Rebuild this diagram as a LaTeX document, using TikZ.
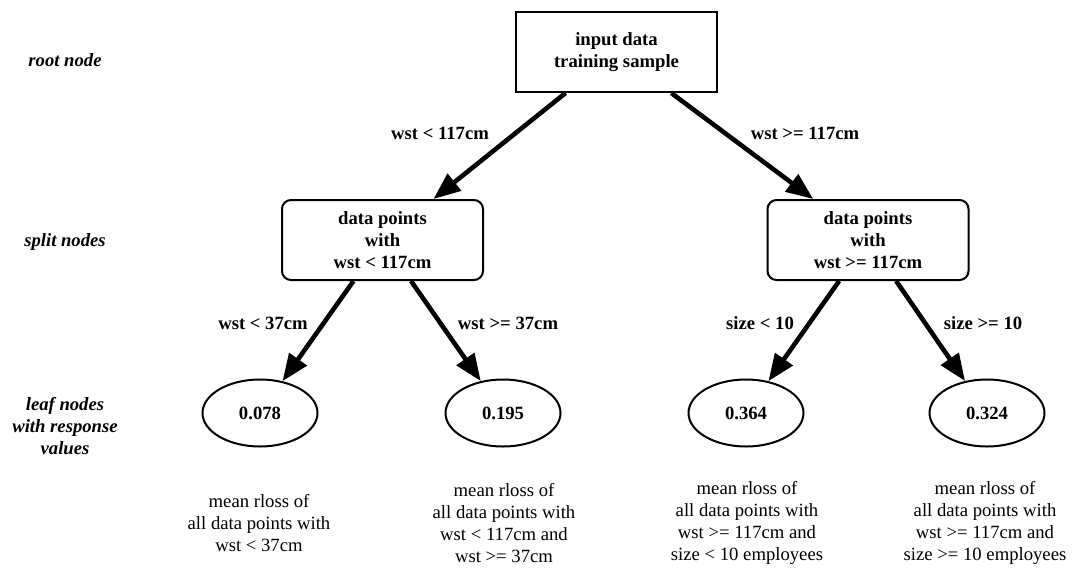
\documentclass[tikz,border=0pt]{standalone}
\usepackage{fontspec}
\setmainfont{Liberation Serif}
\usetikzlibrary{arrows.meta,shapes.geometric}
\newcommand{\treefont}{\fontsize{18.67}{21.8}\selectfont}
\begin{document}
\begin{tikzpicture}[x=1pt,y=-1pt,
  every node/.style={font=\treefont, align=center, inner sep=0pt},
  treebox/.style={draw, line width=2pt, minimum width=201pt, minimum height=80pt,
    font=\treefont\bfseries},
  splitbox/.style={treebox, rounded corners=9pt},
  leaf/.style={draw, ellipse, line width=2pt, minimum width=115pt, minimum height=67pt,
    font=\treefont\bfseries},
  edgelabel/.style={font=\treefont\bfseries},
  levellabel/.style={font=\treefont\bfseries\itshape},
  note/.style={font=\treefont},
  branch/.style={line width=4.6pt, -{Triangle[length=27pt,width=21pt]}}
]
\useasboundingbox (0,0) rectangle (1075,567);

% tree nodes
\node[treebox] (root) at (616.5,52) {input data\\training sample};
\node[splitbox] (lsplit) at (382.5,240) {data points\\with\\wst < 117cm};
\node[splitbox] (rsplit) at (868,240) {data points\\with\\wst >= 117cm};
\node[leaf] (leafA) at (260,413) {0.078};
\node[leaf] (leafB) at (503,413) {0.195};
\node[leaf] (leafC) at (746,413) {0.364};
\node[leaf] (leafD) at (987,413) {0.324};

% branches
\draw[branch] (root) -- (lsplit);
\draw[branch] (root) -- (rsplit);
\draw[branch] (lsplit) -- (leafA);
\draw[branch] (lsplit) -- (leafB);
\draw[branch] (rsplit) -- (leafC);
\draw[branch] (rsplit) -- (leafD);

% split conditions
\node[edgelabel] (cA) at (440,133) {wst < 117cm};
\node[edgelabel] (cB) at (805,133) {wst >= 117cm};
\node[edgelabel] (cC) at (263,323) {wst < 37cm};
\node[edgelabel] (cD) at (508,323) {wst >= 37cm};
\node[edgelabel] (cE) at (760,323) {size < 10};
\node[edgelabel] (cF) at (983,323) {size >= 10};

% level captions
\node[levellabel] (lvRoot) at (65,60) {root node};
\node[levellabel] (lvSplit) at (65,242) {split nodes};
\node[levellabel] (lvLeaf) at (65,426) {leaf nodes\\with response\\values};

% leaf descriptions
\node[note] (nA) at (259,523) {mean rloss of\\all data points with\\wst < 37cm};
\node[note] (nB) at (504,523) {mean rloss of\\all data points with\\wst < 117cm and\\wst >= 37cm};
\node[note] (nC) at (747,523) {mean rloss of\\all data points with\\wst >= 117cm and\\size < 10 employees};
\node[note] (nD) at (985,523) {mean rloss of\\all data points with\\wst >= 117cm and\\size >= 10 employees};
\end{tikzpicture}
\end{document}
